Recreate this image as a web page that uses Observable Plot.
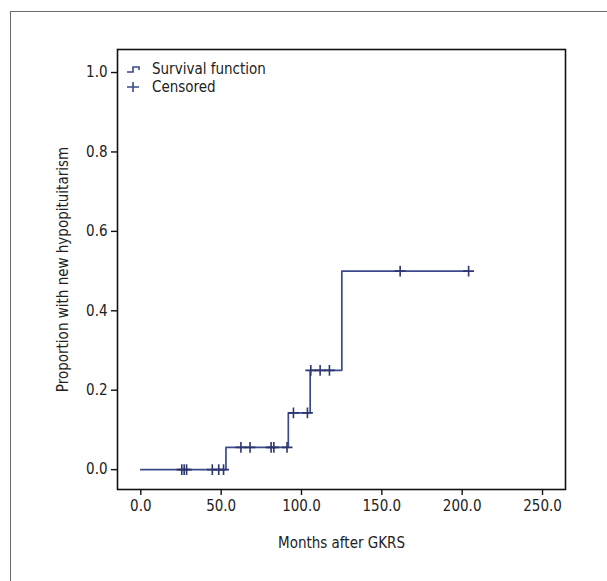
<!DOCTYPE html>
<html>
<head>
<meta charset="utf-8">
<script src="https://cdn.jsdelivr.net/npm/d3@7"></script>
<script src="https://cdn.jsdelivr.net/npm/@observablehq/plot@0.6"></script>
<style>
  html, body { margin: 0; padding: 0; background: #fff; }
  body { width: 607px; height: 581px; position: relative; overflow: hidden;
         font-family: "Liberation Sans Narrow", "DejaVu Sans Condensed", "Roboto Condensed", sans-serif; }
  #outer { position: absolute; left: 10px; top: 11px; width: 800px; height: 800px;
           border: 1.5px solid #6b6b6b; box-sizing: border-box; }
  #chart { position: absolute; left: 0; top: 0; }
  #legend { position: absolute; left: 126px; top: 60px; font-size: 15px; color: #222; line-height: 18px; }
  #legend div { display: flex; align-items: center; height: 18px; }
  #legend svg { margin-right: 6px; }
</style>
</head>
<body>
<div id="outer"></div>
<div id="chart"></div>
<div id="legend">
  <div><svg width="20" height="12"><path d="M1,9 H7 V4 H13 V7" fill="none" stroke="#3b4a8c" stroke-width="1.6"/></svg>Survival function</div>
  <div><svg width="20" height="12"><path d="M1,6 H13 M7,1 V11" fill="none" stroke="#3b4a8c" stroke-width="1.6"/></svg>Censored</div>
</div>
<script>
// Step function (cumulative proportion with new hypopituitarism)
const stepTimes = [0, 53, 91.8, 105.4, 125.1, 204];
const stepValues = [0, 0.056, 0.143, 0.25, 0.5, 0.5];

// Censored observations
const censorTimes = [25.5, 27, 28.5, 44.5, 48.5, 51.5, 62.3, 68, 81.1, 82.8, 91, 95, 103.7, 105.8, 111.6, 117.4, 161.4, 204];
const censorValues = [0, 0, 0, 0, 0, 0, 0.056, 0.056, 0.056, 0.056, 0.056, 0.143, 0.143, 0.25, 0.25, 0.25, 0.5, 0.5];

const xTicks = [0, 50, 100, 150, 200, 250];
const yTicks = [0, 0.2, 0.4, 0.6, 0.8, 1.0];

const steps = stepTimes.map((t, i) => ({t, v: stepValues[i]}));
const censored = censorTimes.map((t, i) => ({t, v: censorValues[i]}));

const lineColor = "#3b4a8c";

const chart = Plot.plot({
  width: 607,
  height: 581,
  marginLeft: 117,
  marginRight: 42,
  marginTop: 49,
  marginBottom: 92,
  style: {fontFamily: '"Liberation Sans Narrow", "DejaVu Sans Condensed", sans-serif', fontSize: "15px", color: "#222", background: "transparent"},
  x: {domain: [-14.5, 264.3], ticks: xTicks, tickFormat: d3.format(".1f"), label: null},
  y: {domain: [-0.05, 1.058], ticks: yTicks, tickFormat: d3.format(".1f"), label: null},
  marks: [
    Plot.frame({stroke: "#111", strokeWidth: 1.6}),
    Plot.axisX({ticks: xTicks, tickFormat: d3.format(".1f"), tickSize: 6, tickPadding: 5, stroke: "#111", strokeWidth: 1.4, fontSize: 15, label: null}),
    Plot.axisY({ticks: yTicks, tickFormat: d3.format(".1f"), tickSize: 6, tickPadding: 4, stroke: "#111", strokeWidth: 1.4, fontSize: 15, label: null}),
    Plot.text(["Months after GKRS"], {frameAnchor: "bottom", dy: 58, fontSize: 15, fill: "#222"}),
    Plot.text(["Proportion with new hypopituitarism"], {frameAnchor: "left", textAnchor: "middle", dx: -54, rotate: -90, fontSize: 15, fill: "#222"}),
    Plot.line(steps, {x: "t", y: "v", curve: "step-after", stroke: lineColor, strokeWidth: 1.7}),
    Plot.dot(censored, {x: "t", y: "v", symbol: "plus", r: 3.6, stroke: "#2c3770", strokeWidth: 1.6})
  ]
});
document.getElementById("chart").appendChild(chart);
</script>
</body>
</html>
